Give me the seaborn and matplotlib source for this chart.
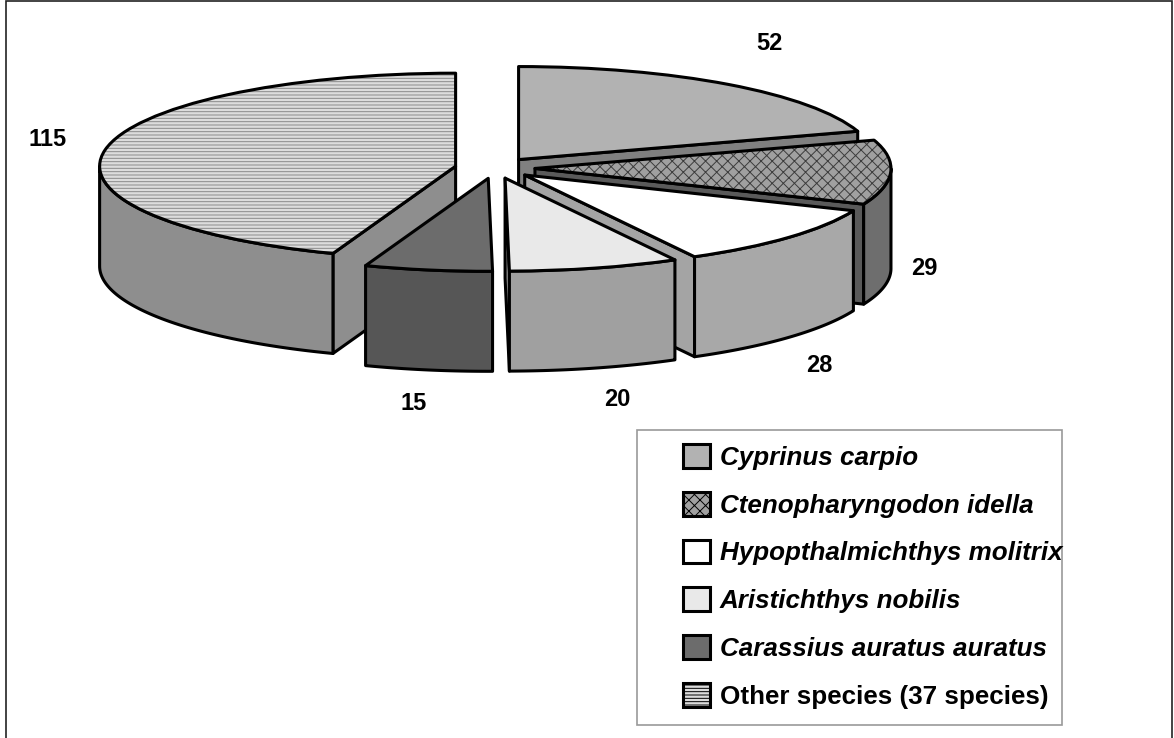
import numpy as np
import matplotlib
matplotlib.use('Agg')
import matplotlib.pyplot as plt
from matplotlib.patches import Patch, Rectangle
import seaborn as sns

# data
species = ['Cyprinus carpio', 'Ctenopharyngodon idella', 'Hypopthalmichthys molitrix',
           'Aristichthys nobilis', 'Carassius auratus auratus', 'Other species (37 species)']
counts = [52, 29, 28, 20, 15, 115]

# styles
top_colors = ['#b2b2b2', '#a0a0a0', '#ffffff', '#e9e9e9', '#6c6c6c', '#dcdcdc']
hatch_colors = ['#b2b2b2', '#3c3c3c', '#ffffff', '#e9e9e9', '#6c6c6c', '#8a8a8a']
hatches = [None, 'xxx', None, None, None, '-----']
outer_colors = ['#a8a8a8', '#6e6e6e', '#a8a8a8', '#a0a0a0', '#565656', '#8e8e8e']
radial_colors = ['#808080', '#5a5a5a', '#a4a4a4', '#a0a0a0', '#565656', '#8e8e8e']
draw_order = [0, 1, 2, 5, 3, 4]
label_pos = [(769, 44), (924, 269), (819, 365), (617, 400), (414, 404), (48, 140)]

W, H = 1174, 738
CX, CY = 495, 168   # pie centre in pixels
RX, RY = 356, 93    # ellipse radii in pixels
DEPTH = 100 / RY    # thickness in y units
EXPLODE = 40 / RX
LW = 2.2

sns.set_theme(style='white', font='Liberation Sans')
plt.rcParams['hatch.linewidth'] = 0.7

fig = plt.figure(figsize=(W / 100, H / 100), dpi=100)
ax = fig.add_axes([0, 0, 1, 1])

explode = [EXPLODE] * len(counts)
fills, _ = ax.pie(counts, explode=explode, colors=top_colors, startangle=90, counterclock=False,
                  hatch=hatches, wedgeprops={'linewidth': 0})
outlines, _ = ax.pie(counts, explode=explode, startangle=90, counterclock=False,
                     wedgeprops={'facecolor': 'none', 'edgecolor': 'black', 'linewidth': LW,
                                 'joinstyle': 'round'})
for w, c in zip(fills, hatch_colors):
    w.set_edgecolor(c)
    w.set_linewidth(0)

# side faces, computed from the same angles as the pie
edges = np.cumsum([0] + counts) / sum(counts) * 2 * np.pi
style = {'edgecolor': 'black', 'linewidth': LW, 'joinstyle': 'round'}
for rank, i in enumerate(draw_order):
    t1, t2 = edges[i], edges[i + 1]
    mid = (t1 + t2) / 2
    ax0, ay0 = EXPLODE * np.sin(mid), EXPLODE * np.cos(mid)
    z = 10 * (rank + 1)

    # radial faces
    for t, visible in ((t1, np.sin(t1) < 0), (t2, np.sin(t2) > 0)):
        if visible:
            ex, ey = ax0 + np.sin(t), ay0 + np.cos(t)
            ax.fill([ax0, ex, ex, ax0], [ay0, ey, ey - DEPTH, ay0 - DEPTH],
                    facecolor=radial_colors[i], zorder=z, **style)

    # outer curved face
    a, b = max(t1, np.pi / 2), min(t2, 3 * np.pi / 2)
    if b > a:
        t = np.linspace(a, b, 80)
        xs = ax0 + np.sin(t)
        ys = ay0 + np.cos(t)
        ax.fill(np.r_[xs, xs[::-1]], np.r_[ys, ys[::-1] - DEPTH],
                facecolor=outer_colors[i], zorder=z + 1, **style)

    fills[i].set_zorder(z + 2)
    outlines[i].set_zorder(z + 3)

ax.set_aspect('auto')
ax.set_xlim(-CX / RX, (W - CX) / RX)
ax.set_ylim((CY - H) / RY, CY / RY)
ax.axis('off')

# value labels
for value, (x, y) in zip(counts, label_pos):
    fig.text(x / W, 1 - y / H, str(value), ha='center', va='center',
             fontsize=17, fontweight='bold', color='black')

# outer frame and legend frame
fig.add_artist(Rectangle((5.5 / W, -0.01), (W - 8) / W, 1 - 0.5 / H + 0.01, transform=fig.transFigure,
                         facecolor='none', edgecolor='#222222', linewidth=1.2))
fig.add_artist(Rectangle((637 / W, 1 - 725 / H), 425 / W, 295 / H, transform=fig.transFigure,
                         facecolor='white', edgecolor='#999999', linewidth=1.2, zorder=1))

handles = [Patch(facecolor=f, edgecolor='black', linewidth=LW, hatch=h)
           for f, h in zip(top_colors, hatches)]
leg = fig.legend(handles, species, loc='upper left', bbox_to_anchor=(683 / W, 1 - 444 / H),
                 frameon=False, borderpad=0, borderaxespad=0, handlelength=1.03, handleheight=1.03,
                 handletextpad=0.38, labelspacing=0.85, labelcolor='black',
                 prop={'family': 'Liberation Sans', 'size': 18.7, 'weight': 'bold', 'style': 'italic'})
leg.set_zorder(5)
leg.get_texts()[-1].set_fontstyle('normal')

fig.savefig('out.png', dpi=100)
plt.close(fig)
